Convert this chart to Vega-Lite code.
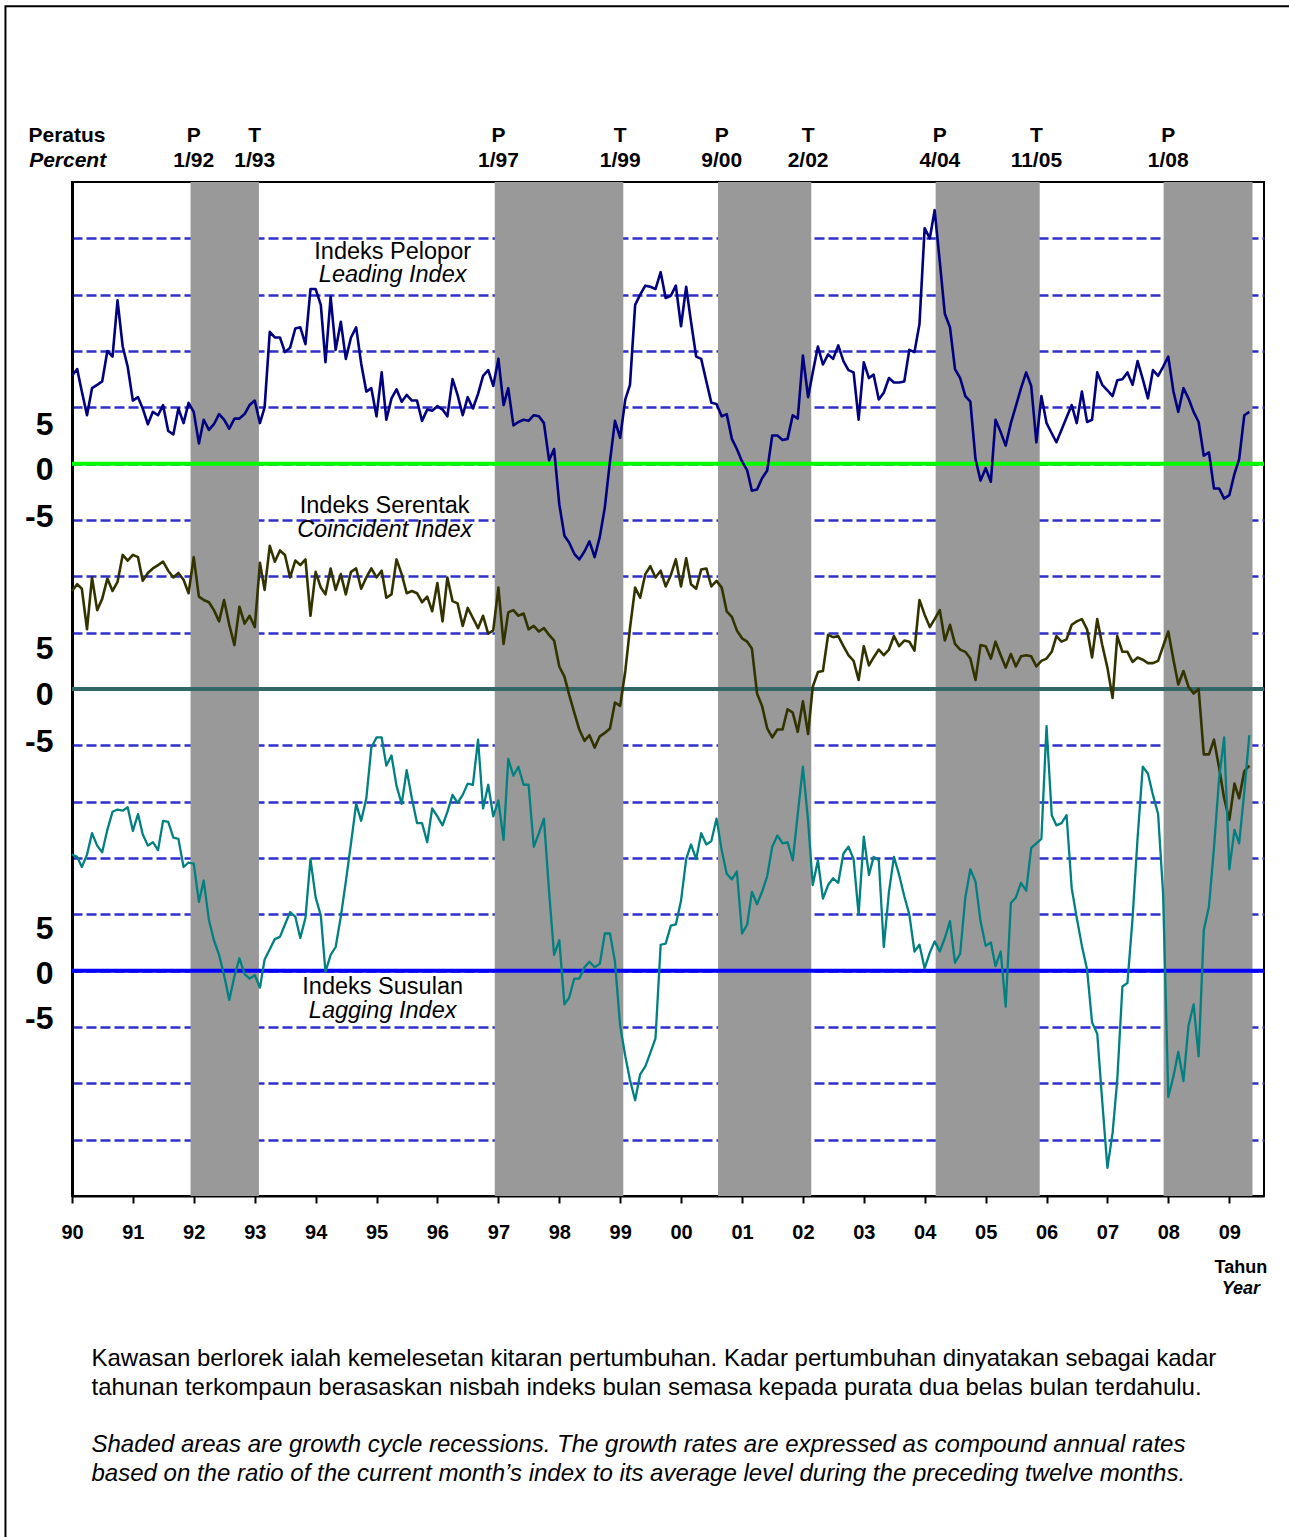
{
  "$schema": "https://vega.github.io/schema/vega-lite/v6.json",
  "width": 1192,
  "height": 1014,
  "autosize": {"type": "none"},
  "padding": {"left": 72, "top": 182, "right": 25, "bottom": 341},
  "background": "white",
  "config": {
    "font": "Liberation Sans",
    "view": {"stroke": "black", "strokeWidth": 2},
    "text": {"font": "Liberation Sans", "color": "black"}
  },
  "datasets": {
    "growth": [
      {"date":"1990-01","lead":7.8,"coin":8.7,"lag":10.3},
      {"date":"1990-02","lead":8.4,"coin":9.3,"lag":10.1},
      {"date":"1990-03","lead":6.4,"coin":8.9,"lag":9.2},
      {"date":"1990-04","lead":4.3,"coin":5.3,"lag":10.3},
      {"date":"1990-05","lead":6.7,"coin":9.9,"lag":12.2},
      {"date":"1990-06","lead":7.0,"coin":7.0,"lag":11.1},
      {"date":"1990-07","lead":7.3,"coin":8.0,"lag":10.5},
      {"date":"1990-08","lead":10.0,"coin":9.8,"lag":12.5},
      {"date":"1990-09","lead":9.5,"coin":8.7,"lag":14.1},
      {"date":"1990-10","lead":14.5,"coin":9.5,"lag":14.3},
      {"date":"1990-11","lead":10.4,"coin":11.9,"lag":14.2},
      {"date":"1990-12","lead":8.6,"coin":11.4,"lag":14.5},
      {"date":"1991-01","lead":5.6,"coin":11.9,"lag":12.4},
      {"date":"1991-02","lead":5.9,"coin":11.7,"lag":13.9},
      {"date":"1991-03","lead":4.9,"coin":9.6,"lag":12.1},
      {"date":"1991-04","lead":3.5,"coin":10.3,"lag":11.1},
      {"date":"1991-05","lead":4.6,"coin":10.7,"lag":11.4},
      {"date":"1991-06","lead":4.3,"coin":11.0,"lag":10.7},
      {"date":"1991-07","lead":5.2,"coin":11.3,"lag":13.3},
      {"date":"1991-08","lead":2.9,"coin":10.5,"lag":13.2},
      {"date":"1991-09","lead":2.6,"coin":9.9,"lag":11.8},
      {"date":"1991-10","lead":4.9,"coin":10.3,"lag":11.7},
      {"date":"1991-11","lead":3.6,"coin":9.7,"lag":9.2},
      {"date":"1991-12","lead":5.4,"coin":8.5,"lag":9.6},
      {"date":"1992-01","lead":4.6,"coin":11.7,"lag":9.5},
      {"date":"1992-02","lead":1.8,"coin":8.2,"lag":6.1},
      {"date":"1992-03","lead":3.9,"coin":7.9,"lag":8.0},
      {"date":"1992-04","lead":3.0,"coin":7.7,"lag":4.5},
      {"date":"1992-05","lead":3.5,"coin":7.0,"lag":2.7},
      {"date":"1992-06","lead":4.4,"coin":6.0,"lag":1.4},
      {"date":"1992-07","lead":3.9,"coin":7.9,"lag":-0.4},
      {"date":"1992-08","lead":3.1,"coin":5.7,"lag":-2.6},
      {"date":"1992-09","lead":4.0,"coin":3.9,"lag":-0.5},
      {"date":"1992-10","lead":4.0,"coin":7.3,"lag":1.1},
      {"date":"1992-11","lead":4.4,"coin":5.8,"lag":-0.3},
      {"date":"1992-12","lead":5.2,"coin":6.5,"lag":-0.7},
      {"date":"1993-01","lead":5.6,"coin":5.5,"lag":-0.4},
      {"date":"1993-02","lead":3.6,"coin":11.2,"lag":-1.5},
      {"date":"1993-03","lead":5.0,"coin":8.8,"lag":1.0},
      {"date":"1993-04","lead":11.7,"coin":12.7,"lag":1.9},
      {"date":"1993-05","lead":11.2,"coin":11.3,"lag":2.8},
      {"date":"1993-06","lead":11.2,"coin":12.3,"lag":3.0},
      {"date":"1993-07","lead":9.9,"coin":11.9,"lag":4.1},
      {"date":"1993-08","lead":10.3,"coin":9.9,"lag":5.2},
      {"date":"1993-09","lead":12.0,"coin":11.4,"lag":4.8},
      {"date":"1993-10","lead":12.1,"coin":11.0,"lag":2.9},
      {"date":"1993-11","lead":10.6,"coin":11.5,"lag":4.7},
      {"date":"1993-12","lead":15.5,"coin":6.5,"lag":9.9},
      {"date":"1994-01","lead":15.5,"coin":10.4,"lag":6.5},
      {"date":"1994-02","lead":14.1,"coin":9.0,"lag":4.9},
      {"date":"1994-03","lead":9.0,"coin":8.4,"lag":-0.1},
      {"date":"1994-04","lead":14.8,"coin":10.7,"lag":1.4},
      {"date":"1994-05","lead":10.1,"coin":8.8,"lag":2.1},
      {"date":"1994-06","lead":12.6,"coin":10.2,"lag":4.8},
      {"date":"1994-07","lead":9.3,"coin":8.4,"lag":7.9},
      {"date":"1994-08","lead":11.2,"coin":10.4,"lag":11.3},
      {"date":"1994-09","lead":12.1,"coin":10.7,"lag":14.8},
      {"date":"1994-10","lead":8.9,"coin":8.9,"lag":13.3},
      {"date":"1994-11","lead":6.4,"coin":9.9,"lag":15.3},
      {"date":"1994-12","lead":6.7,"coin":10.7,"lag":19.8},
      {"date":"1995-01","lead":4.2,"coin":9.9,"lag":20.7},
      {"date":"1995-02","lead":8.1,"coin":10.5,"lag":20.7},
      {"date":"1995-03","lead":3.9,"coin":8.1,"lag":18.2},
      {"date":"1995-04","lead":5.8,"coin":8.4,"lag":19.1},
      {"date":"1995-05","lead":6.6,"coin":11.5,"lag":16.4},
      {"date":"1995-06","lead":5.5,"coin":10.2,"lag":14.8},
      {"date":"1995-07","lead":6.1,"coin":8.5,"lag":17.8},
      {"date":"1995-08","lead":5.6,"coin":8.7,"lag":15.3},
      {"date":"1995-09","lead":5.6,"coin":8.5,"lag":13.1},
      {"date":"1995-10","lead":3.8,"coin":7.7,"lag":13.1},
      {"date":"1995-11","lead":4.8,"coin":8.2,"lag":11.4},
      {"date":"1995-12","lead":4.7,"coin":6.9,"lag":14.4},
      {"date":"1996-01","lead":5.1,"coin":9.4,"lag":13.7},
      {"date":"1996-02","lead":4.8,"coin":6.0,"lag":12.9},
      {"date":"1996-03","lead":4.2,"coin":9.9,"lag":14.1},
      {"date":"1996-04","lead":7.5,"coin":7.8,"lag":15.6},
      {"date":"1996-05","lead":6.1,"coin":7.6,"lag":14.9},
      {"date":"1996-06","lead":4.3,"coin":5.6,"lag":15.6},
      {"date":"1996-07","lead":5.9,"coin":7.2,"lag":16.6},
      {"date":"1996-08","lead":4.9,"coin":6.3,"lag":16.5},
      {"date":"1996-09","lead":6.2,"coin":5.4,"lag":20.5},
      {"date":"1996-10","lead":7.8,"coin":6.5,"lag":14.4},
      {"date":"1996-11","lead":8.3,"coin":4.9,"lag":16.5},
      {"date":"1996-12","lead":6.9,"coin":5.2,"lag":13.7},
      {"date":"1997-01","lead":9.3,"coin":9.0,"lag":15.1},
      {"date":"1997-02","lead":5.2,"coin":4.0,"lag":11.6},
      {"date":"1997-03","lead":6.7,"coin":6.8,"lag":18.8},
      {"date":"1997-04","lead":3.4,"coin":7.0,"lag":17.3},
      {"date":"1997-05","lead":3.7,"coin":6.5,"lag":18.1},
      {"date":"1997-06","lead":3.9,"coin":6.7,"lag":16.5},
      {"date":"1997-07","lead":3.8,"coin":5.3,"lag":16.5},
      {"date":"1997-08","lead":4.3,"coin":5.6,"lag":11.0},
      {"date":"1997-09","lead":4.2,"coin":5.1,"lag":12.2},
      {"date":"1997-10","lead":3.6,"coin":5.4,"lag":13.5},
      {"date":"1997-11","lead":0.3,"coin":4.8,"lag":7.0},
      {"date":"1997-12","lead":1.3,"coin":4.3,"lag":1.4},
      {"date":"1998-01","lead":-3.6,"coin":2.0,"lag":2.7},
      {"date":"1998-02","lead":-6.4,"coin":1.1,"lag":-3.0},
      {"date":"1998-03","lead":-7.0,"coin":-0.5,"lag":-2.4},
      {"date":"1998-04","lead":-8.0,"coin":-2.1,"lag":-0.7},
      {"date":"1998-05","lead":-8.5,"coin":-3.6,"lag":-0.7},
      {"date":"1998-06","lead":-7.8,"coin":-4.6,"lag":0.3},
      {"date":"1998-07","lead":-6.9,"coin":-4.1,"lag":0.8},
      {"date":"1998-08","lead":-8.3,"coin":-5.2,"lag":0.3},
      {"date":"1998-09","lead":-6.5,"coin":-4.2,"lag":0.6},
      {"date":"1998-10","lead":-3.9,"coin":-3.9,"lag":3.3},
      {"date":"1998-11","lead":0.2,"coin":-3.5,"lag":3.3},
      {"date":"1998-12","lead":3.8,"coin":-1.2,"lag":0.8},
      {"date":"1999-01","lead":2.3,"coin":-1.5,"lag":-4.9},
      {"date":"1999-02","lead":5.7,"coin":1.6,"lag":-7.6},
      {"date":"1999-03","lead":7.0,"coin":5.4,"lag":-9.7},
      {"date":"1999-04","lead":14.1,"coin":9.0,"lag":-11.5},
      {"date":"1999-05","lead":15.0,"coin":8.1,"lag":-9.2},
      {"date":"1999-06","lead":15.8,"coin":10.2,"lag":-8.5},
      {"date":"1999-07","lead":15.7,"coin":10.9,"lag":-7.3},
      {"date":"1999-08","lead":15.5,"coin":9.9,"lag":-6.0},
      {"date":"1999-09","lead":17.0,"coin":10.5,"lag":2.3},
      {"date":"1999-10","lead":14.7,"coin":9.1,"lag":2.4},
      {"date":"1999-11","lead":14.9,"coin":10.1,"lag":4.0},
      {"date":"1999-12","lead":15.8,"coin":11.5,"lag":4.1},
      {"date":"2000-01","lead":12.2,"coin":9.1,"lag":6.2},
      {"date":"2000-02","lead":15.7,"coin":11.6,"lag":9.9},
      {"date":"2000-03","lead":12.6,"coin":9.3,"lag":11.2},
      {"date":"2000-04","lead":9.5,"coin":8.9,"lag":9.9},
      {"date":"2000-05","lead":9.3,"coin":10.6,"lag":12.2},
      {"date":"2000-06","lead":7.3,"coin":10.7,"lag":11.2},
      {"date":"2000-07","lead":5.4,"coin":9.1,"lag":11.5},
      {"date":"2000-08","lead":5.3,"coin":9.6,"lag":13.5},
      {"date":"2000-09","lead":4.2,"coin":9.0,"lag":10.7},
      {"date":"2000-10","lead":4.4,"coin":6.9,"lag":8.6},
      {"date":"2000-11","lead":2.2,"coin":6.4,"lag":8.1},
      {"date":"2000-12","lead":1.3,"coin":5.2,"lag":8.8},
      {"date":"2001-01","lead":0.2,"coin":4.5,"lag":3.3},
      {"date":"2001-02","lead":-0.6,"coin":4.2,"lag":4.1},
      {"date":"2001-03","lead":-2.4,"coin":3.6,"lag":7.0},
      {"date":"2001-04","lead":-2.3,"coin":-0.4,"lag":5.9},
      {"date":"2001-05","lead":-1.3,"coin":-1.5,"lag":7.0},
      {"date":"2001-06","lead":-0.6,"coin":-3.5,"lag":8.4},
      {"date":"2001-07","lead":2.5,"coin":-4.3,"lag":11.0},
      {"date":"2001-08","lead":2.5,"coin":-3.6,"lag":12.0},
      {"date":"2001-09","lead":2.1,"coin":-3.6,"lag":11.3},
      {"date":"2001-10","lead":2.2,"coin":-1.8,"lag":11.4},
      {"date":"2001-11","lead":4.3,"coin":-2.1,"lag":9.8},
      {"date":"2001-12","lead":4.0,"coin":-3.8,"lag":13.9},
      {"date":"2002-01","lead":9.6,"coin":-1.1,"lag":18.1},
      {"date":"2002-02","lead":5.9,"coin":-4.0,"lag":13.3},
      {"date":"2002-03","lead":8.1,"coin":0.2,"lag":7.6},
      {"date":"2002-04","lead":10.4,"coin":1.5,"lag":9.8},
      {"date":"2002-05","lead":8.8,"coin":1.6,"lag":6.4},
      {"date":"2002-06","lead":9.7,"coin":4.8,"lag":7.6},
      {"date":"2002-07","lead":9.3,"coin":4.6,"lag":8.2},
      {"date":"2002-08","lead":10.5,"coin":4.7,"lag":7.8},
      {"date":"2002-09","lead":9.1,"coin":3.8,"lag":10.4},
      {"date":"2002-10","lead":8.3,"coin":3.0,"lag":11.0},
      {"date":"2002-11","lead":8.1,"coin":2.5,"lag":9.9},
      {"date":"2002-12","lead":3.9,"coin":0.8,"lag":5.0},
      {"date":"2003-01","lead":9.0,"coin":3.8,"lag":11.9},
      {"date":"2003-02","lead":7.6,"coin":2.1,"lag":8.5},
      {"date":"2003-03","lead":7.9,"coin":2.8,"lag":10.1},
      {"date":"2003-04","lead":5.7,"coin":3.5,"lag":9.8},
      {"date":"2003-05","lead":6.3,"coin":3.0,"lag":2.1},
      {"date":"2003-06","lead":7.6,"coin":3.5,"lag":7.0},
      {"date":"2003-07","lead":7.2,"coin":4.7,"lag":10.1},
      {"date":"2003-08","lead":7.2,"coin":3.8,"lag":8.5},
      {"date":"2003-09","lead":7.3,"coin":4.3,"lag":6.6},
      {"date":"2003-10","lead":10.1,"coin":4.2,"lag":5.0},
      {"date":"2003-11","lead":9.9,"coin":3.4,"lag":1.7},
      {"date":"2003-12","lead":12.4,"coin":7.9,"lag":2.3},
      {"date":"2004-01","lead":20.9,"coin":6.6,"lag":0.2},
      {"date":"2004-02","lead":20.0,"coin":5.5,"lag":1.6},
      {"date":"2004-03","lead":22.5,"coin":6.2,"lag":2.6},
      {"date":"2004-04","lead":17.9,"coin":7.0,"lag":1.7},
      {"date":"2004-05","lead":13.3,"coin":4.3,"lag":2.9},
      {"date":"2004-06","lead":12.1,"coin":5.7,"lag":4.4},
      {"date":"2004-07","lead":8.4,"coin":4.0,"lag":0.7},
      {"date":"2004-08","lead":7.6,"coin":3.5,"lag":1.5},
      {"date":"2004-09","lead":6.0,"coin":3.3,"lag":6.5},
      {"date":"2004-10","lead":5.5,"coin":2.7,"lag":9.0},
      {"date":"2004-11","lead":0.4,"coin":0.8,"lag":7.9},
      {"date":"2004-12","lead":-1.5,"coin":3.9,"lag":4.4},
      {"date":"2005-01","lead":-0.4,"coin":3.8,"lag":2.2},
      {"date":"2005-02","lead":-1.6,"coin":2.7,"lag":2.5},
      {"date":"2005-03","lead":3.9,"coin":4.2,"lag":0.4},
      {"date":"2005-04","lead":2.8,"coin":3.0,"lag":1.7},
      {"date":"2005-05","lead":1.6,"coin":1.9,"lag":-3.2},
      {"date":"2005-06","lead":3.6,"coin":3.1,"lag":6.0},
      {"date":"2005-07","lead":5.1,"coin":2.0,"lag":6.5},
      {"date":"2005-08","lead":6.7,"coin":2.9,"lag":7.8},
      {"date":"2005-09","lead":8.1,"coin":3.0,"lag":7.1},
      {"date":"2005-10","lead":6.9,"coin":2.9,"lag":10.9},
      {"date":"2005-11","lead":1.9,"coin":2.0,"lag":11.3},
      {"date":"2005-12","lead":6.0,"coin":2.5,"lag":11.7},
      {"date":"2006-01","lead":3.6,"coin":2.7,"lag":21.7},
      {"date":"2006-02","lead":2.7,"coin":3.3,"lag":13.8},
      {"date":"2006-03","lead":1.9,"coin":4.7,"lag":12.9},
      {"date":"2006-04","lead":3.0,"coin":4.2,"lag":13.1},
      {"date":"2006-05","lead":4.1,"coin":4.4,"lag":13.8},
      {"date":"2006-06","lead":5.2,"coin":5.7,"lag":7.3},
      {"date":"2006-07","lead":3.6,"coin":6.0,"lag":4.7},
      {"date":"2006-08","lead":6.4,"coin":6.2,"lag":2.2},
      {"date":"2006-09","lead":3.7,"coin":5.3,"lag":0.1},
      {"date":"2006-10","lead":3.9,"coin":2.8,"lag":-4.6},
      {"date":"2006-11","lead":8.1,"coin":6.2,"lag":-5.6},
      {"date":"2006-12","lead":7.0,"coin":3.9,"lag":-11.6},
      {"date":"2007-01","lead":6.5,"coin":1.9,"lag":-17.5},
      {"date":"2007-02","lead":6.0,"coin":-0.8,"lag":-14.4},
      {"date":"2007-03","lead":7.4,"coin":4.7,"lag":-9.7},
      {"date":"2007-04","lead":7.5,"coin":3.3,"lag":-1.4},
      {"date":"2007-05","lead":8.1,"coin":3.3,"lag":-1.1},
      {"date":"2007-06","lead":7.0,"coin":2.4,"lag":4.7},
      {"date":"2007-07","lead":9.1,"coin":2.8,"lag":11.8},
      {"date":"2007-08","lead":7.5,"coin":2.6,"lag":18.1},
      {"date":"2007-09","lead":5.8,"coin":2.3,"lag":17.5},
      {"date":"2007-10","lead":8.3,"coin":2.3,"lag":15.6},
      {"date":"2007-11","lead":7.8,"coin":2.5,"lag":13.9},
      {"date":"2007-12","lead":8.6,"coin":3.8,"lag":6.8},
      {"date":"2008-01","lead":9.5,"coin":5.1,"lag":-11.2},
      {"date":"2008-02","lead":6.4,"coin":2.6,"lag":-9.4},
      {"date":"2008-03","lead":4.6,"coin":0.4,"lag":-7.2},
      {"date":"2008-04","lead":6.7,"coin":1.6,"lag":-9.8},
      {"date":"2008-05","lead":5.8,"coin":0.2,"lag":-4.9},
      {"date":"2008-06","lead":4.6,"coin":-0.4,"lag":-3.0},
      {"date":"2008-07","lead":3.7,"coin":0.0,"lag":-7.6},
      {"date":"2008-08","lead":0.7,"coin":-5.8,"lag":3.6},
      {"date":"2008-09","lead":1.0,"coin":-5.8,"lag":5.7},
      {"date":"2008-10","lead":-2.2,"coin":-4.5,"lag":10.9},
      {"date":"2008-11","lead":-2.2,"coin":-7.0,"lag":17.1},
      {"date":"2008-12","lead":-3.1,"coin":-9.7,"lag":20.7},
      {"date":"2009-01","lead":-2.8,"coin":-11.6,"lag":9.0},
      {"date":"2009-02","lead":-0.9,"coin":-8.4,"lag":12.5},
      {"date":"2009-03","lead":0.4,"coin":-9.7,"lag":11.3},
      {"date":"2009-04","lead":4.3,"coin":-7.3,"lag":15.9},
      {"date":"2009-05","lead":4.6,"coin":-6.8,"lag":20.9}
    ],
    "recessions": [
      {"start":"1991-12-13","end":"1993-01-26"},
      {"start":"1996-12-10","end":"1999-01-20"},
      {"start":"2000-08-10","end":"2002-02-20"},
      {"start":"2004-03-07","end":"2005-11-21"},
      {"start":"2007-12-04","end":"2009-05-20"}
    ],
    "turns": [
      {"date":"1992-01","type":"P","label":"1/92"},
      {"date":"1993-01","type":"T","label":"1/93"},
      {"date":"1997-01","type":"P","label":"1/97"},
      {"date":"1999-01","type":"T","label":"1/99"},
      {"date":"2000-09","type":"P","label":"9/00"},
      {"date":"2002-02","type":"T","label":"2/02"},
      {"date":"2004-04","type":"P","label":"4/04"},
      {"date":"2005-11","type":"T","label":"11/05"},
      {"date":"2008-01","type":"P","label":"1/08"}
    ]
  },
  "data": {"name": "growth"},
  "layer": [
    {
      "layer": [
        {
          "data": {"name": "recessions"},
          "mark": {"type": "rect", "color": "#999999"},
          "encoding": {
            "x": {
              "field": "start", "type": "temporal", "title": null,
              "scale": {"type": "utc", "domain": [{"year": 1990, "month": 1, "date": 1, "utc": true}, {"year": 2009, "month": 7, "date": 28, "utc": true}]},
              "axis": {
                "values": [{"year":1990,"utc":true},{"year":1991,"utc":true},{"year":1992,"utc":true},{"year":1993,"utc":true},{"year":1994,"utc":true},{"year":1995,"utc":true},{"year":1996,"utc":true},{"year":1997,"utc":true},{"year":1998,"utc":true},{"year":1999,"utc":true},{"year":2000,"utc":true},{"year":2001,"utc":true},{"year":2002,"utc":true},{"year":2003,"utc":true},{"year":2004,"utc":true},{"year":2005,"utc":true},{"year":2006,"utc":true},{"year":2007,"utc":true},{"year":2008,"utc":true},{"year":2009,"utc":true}],
                "format": "%y",
                "title": null,
                "grid": false,
                "labelFont": "Liberation Sans",
                "labelFontSize": 20,
                "labelFontWeight": "bold",
                "labelColor": "black",
                "labelPadding": 19,
                "labelOverlap": false,
                "labelFlush": false,
                "labelBound": false,
                "tickSize": 7,
                "tickWidth": 2,
                "tickColor": "black",
                "domainColor": "black",
                "domainWidth": 2
              }
            },
            "x2": {"field": "end"}
          }
        },
        {
          "data": {"values": [{}]},
          "mark": {"type": "rect", "fillOpacity": 0, "stroke": "black", "strokeWidth": 2},
          "encoding": {
            "x": {"datum": {"year": 1988, "month": 11, "date": 28, "utc": true}, "type": "temporal", "title": null, "scale": {"type": "utc", "domain": [{"year": 1990, "month": 1, "date": 1, "utc": true}, {"year": 2009, "month": 7, "date": 28, "utc": true}]}},
            "x2": {"datum": {"year": 2011, "month": 1, "date": 1, "utc": true}},
            "y": {"datum": 40.6, "type": "quantitative", "title": null, "scale": {"domain": [-65, 25], "nice": false, "zero": false}},
            "y2": {"datum": -120}
          }
        },
        {
          "data": {"values": [{}]},
          "mark": {"type": "rule", "color": "#00ff00", "strokeWidth": 4},
          "encoding": {
            "y": {"datum": 0, "type": "quantitative", "title": null, "scale": {"domain": [-65, 25], "nice": false, "zero": false}}
          }
        },
        {
          "mark": {"type": "line", "color": "#000080", "strokeWidth": 2.6, "strokeJoin": "round"},
          "encoding": {
            "x": {"field": "date", "type": "temporal", "title": null, "scale": {"type": "utc", "domain": [{"year": 1990, "month": 1, "date": 1, "utc": true}, {"year": 2009, "month": 7, "date": 28, "utc": true}]}},
            "y": {
              "field": "lead", "type": "quantitative", "title": null,
              "scale": {"domain": [-65, 25], "nice": false, "zero": false},
              "axis": {
                "values": [-60,-55,-50,-45,-40,-35,-30,-25,-20,-15,-10,-5,0,5,10,15,20],
                "title": null,
                "grid": true,
                "gridColor": "#2f2fcc",
                "gridOpacity": 1,
                "gridDash": [10, 4],
                "gridWidth": 2.5,
                "ticks": false,
                "tickSize": 0,
                "domain": true,
                "domainColor": "black",
                "domainWidth": 3,
                "labelExpr": "indexof([5,-15,-40], datum.value) >= 0 ? '5' : indexof([0,-20,-45], datum.value) >= 0 ? '0' : indexof([-5,-25,-50], datum.value) >= 0 ? '-5' : ''",
                "labelFont": "Liberation Sans",
                "labelFontSize": 32,
                "labelFontWeight": "bold",
                "labelColor": "black",
                "labelPadding": 19,
                "labelOverlap": false,
                "labelFlush": false,
                "labelBound": false,
                "labelOffset": {
                  "condition": [
                    {"test": "datum.value == 5", "value": 17},
                    {"test": "datum.value == -15", "value": 16},
                    {"test": "datum.value == -40", "value": 14},
                    {"test": "datum.value == 0", "value": 6},
                    {"test": "datum.value == -20", "value": 5},
                    {"test": "datum.value == -45", "value": 3},
                    {"test": "datum.value == -5", "value": -4},
                    {"test": "datum.value == -25", "value": -4},
                    {"test": "datum.value == -50", "value": -9}
                  ],
                  "value": 0
                }
              }
            }
          }
        },
        {
          "data": {"name": "turns"},
          "mark": {"type": "text", "font": "Liberation Sans", "fontSize": 21, "fontWeight": "bold", "align": "center", "baseline": "middle", "color": "black"},
          "encoding": {
            "x": {"field": "date", "type": "temporal", "title": null, "scale": {"type": "utc", "domain": [{"year": 1990, "month": 1, "date": 1, "utc": true}, {"year": 2009, "month": 7, "date": 28, "utc": true}]}},
            "y": {"datum": 29.05, "type": "quantitative", "title": null, "scale": {"domain": [-65, 25], "nice": false, "zero": false}},
            "text": {"field": "type"}
          }
        },
        {
          "data": {"name": "turns"},
          "mark": {"type": "text", "font": "Liberation Sans", "fontSize": 21, "fontWeight": "bold", "align": "center", "baseline": "middle", "color": "black"},
          "encoding": {
            "x": {"field": "date", "type": "temporal", "title": null, "scale": {"type": "utc", "domain": [{"year": 1990, "month": 1, "date": 1, "utc": true}, {"year": 2009, "month": 7, "date": 28, "utc": true}]}},
            "y": {"datum": 26.83, "type": "quantitative", "title": null, "scale": {"domain": [-65, 25], "nice": false, "zero": false}},
            "text": {"field": "label"}
          }
        },
        {
          "data": {"values": [{}]},
          "mark": {"type": "text", "font": "Liberation Sans", "fontSize": 21, "fontWeight": "bold", "align": "left", "baseline": "middle", "color": "black"},
          "encoding": {
            "x": {"datum": {"year": 1989, "month": 4, "date": 15, "utc": true}, "type": "temporal", "title": null, "scale": {"type": "utc", "domain": [{"year": 1990, "month": 1, "date": 1, "utc": true}, {"year": 2009, "month": 7, "date": 28, "utc": true}]}},
            "y": {"datum": 29.05, "type": "quantitative", "title": null, "scale": {"domain": [-65, 25], "nice": false, "zero": false}},
            "text": {"value": "Peratus"}
          }
        },
        {
          "data": {"values": [{}]},
          "mark": {"type": "text", "font": "Liberation Sans", "fontSize": 21, "fontWeight": "bold", "fontStyle": "italic", "align": "left", "baseline": "middle", "color": "black"},
          "encoding": {
            "x": {"datum": {"year": 1989, "month": 4, "date": 19, "utc": true}, "type": "temporal", "title": null, "scale": {"type": "utc", "domain": [{"year": 1990, "month": 1, "date": 1, "utc": true}, {"year": 2009, "month": 7, "date": 28, "utc": true}]}},
            "y": {"datum": 26.83, "type": "quantitative", "title": null, "scale": {"domain": [-65, 25], "nice": false, "zero": false}},
            "text": {"value": "Percent"}
          }
        },
        {
          "data": {"values": [{}]},
          "mark": {"type": "text", "font": "Liberation Sans", "fontSize": 23.5, "align": "center", "baseline": "middle", "color": "black"},
          "encoding": {
            "x": {"datum": {"year": 1995, "month": 4, "date": 8, "utc": true}, "type": "temporal", "title": null, "scale": {"type": "utc", "domain": [{"year": 1990, "month": 1, "date": 1, "utc": true}, {"year": 2009, "month": 7, "date": 28, "utc": true}]}},
            "y": {"datum": 18.83, "type": "quantitative", "title": null, "scale": {"domain": [-65, 25], "nice": false, "zero": false}},
            "text": {"value": "Indeks Pelopor"}
          }
        },
        {
          "data": {"values": [{}]},
          "mark": {"type": "text", "font": "Liberation Sans", "fontSize": 23.5, "fontStyle": "italic", "align": "center", "baseline": "middle", "color": "black"},
          "encoding": {
            "x": {"datum": {"year": 1995, "month": 4, "date": 8, "utc": true}, "type": "temporal", "title": null, "scale": {"type": "utc", "domain": [{"year": 1990, "month": 1, "date": 1, "utc": true}, {"year": 2009, "month": 7, "date": 28, "utc": true}]}},
            "y": {"datum": 16.78, "type": "quantitative", "title": null, "scale": {"domain": [-65, 25], "nice": false, "zero": false}},
            "text": {"value": "Leading Index"}
          }
        },
        {
          "data": {"values": [{}]},
          "mark": {"type": "text", "font": "Liberation Sans", "fontSize": 18, "fontWeight": "bold", "align": "center", "baseline": "middle", "color": "black"},
          "encoding": {
            "x": {"datum": {"year": 2009, "month": 3, "date": 11, "utc": true}, "type": "temporal", "title": null, "scale": {"type": "utc", "domain": [{"year": 1990, "month": 1, "date": 1, "utc": true}, {"year": 2009, "month": 7, "date": 28, "utc": true}]}},
            "y": {"datum": -71.4, "type": "quantitative", "title": null, "scale": {"domain": [-65, 25], "nice": false, "zero": false}},
            "text": {"value": "Tahun"}
          }
        },
        {
          "data": {"values": [{}]},
          "mark": {"type": "text", "font": "Liberation Sans", "fontSize": 18, "fontWeight": "bold", "fontStyle": "italic", "align": "center", "baseline": "middle", "color": "black"},
          "encoding": {
            "x": {"datum": {"year": 2009, "month": 3, "date": 11, "utc": true}, "type": "temporal", "title": null, "scale": {"type": "utc", "domain": [{"year": 1990, "month": 1, "date": 1, "utc": true}, {"year": 2009, "month": 7, "date": 28, "utc": true}]}},
            "y": {"datum": -73.29, "type": "quantitative", "title": null, "scale": {"domain": [-65, 25], "nice": false, "zero": false}},
            "text": {"value": "Year"}
          }
        },
        {
          "data": {"values": [{}]},
          "mark": {"type": "text", "font": "Liberation Sans", "fontSize": 24, "align": "left", "baseline": "alphabetic", "lineHeight": 29, "color": "black"},
          "encoding": {
            "x": {"datum": {"year": 1990, "month": 4, "date": 28, "utc": true}, "type": "temporal", "title": null, "scale": {"type": "utc", "domain": [{"year": 1990, "month": 1, "date": 1, "utc": true}, {"year": 2009, "month": 7, "date": 28, "utc": true}]}},
            "y": {"datum": -80.1, "type": "quantitative", "title": null, "scale": {"domain": [-65, 25], "nice": false, "zero": false}},
            "text": {"value": ["Kawasan berlorek ialah kemelesetan kitaran pertumbuhan. Kadar pertumbuhan dinyatakan sebagai kadar", "tahunan terkompaun berasaskan nisbah indeks bulan semasa kepada purata dua belas bulan terdahulu."]}
          }
        },
        {
          "data": {"values": [{}]},
          "mark": {"type": "text", "font": "Liberation Sans", "fontSize": 24, "fontStyle": "italic", "align": "left", "baseline": "alphabetic", "lineHeight": 29, "color": "black"},
          "encoding": {
            "x": {"datum": {"year": 1990, "month": 4, "date": 28, "utc": true}, "type": "temporal", "title": null, "scale": {"type": "utc", "domain": [{"year": 1990, "month": 1, "date": 1, "utc": true}, {"year": 2009, "month": 7, "date": 28, "utc": true}]}},
            "y": {"datum": -87.74, "type": "quantitative", "title": null, "scale": {"domain": [-65, 25], "nice": false, "zero": false}},
            "text": {"value": ["Shaded areas are growth cycle recessions. The growth rates are expressed as compound annual rates", "based on the ratio of the current month’s index to its average level during the preceding twelve months."]}
          }
        }
      ]
    },
    {
      "layer": [
        {
          "data": {"values": [{}]},
          "mark": {"type": "rule", "color": "#336666", "strokeWidth": 4},
          "encoding": {
            "y": {"datum": 0, "type": "quantitative", "scale": {"domain": [-45, 45], "nice": false, "zero": false}, "axis": null}
          }
        },
        {
          "mark": {"type": "line", "color": "#333300", "strokeWidth": 2.6, "strokeJoin": "round"},
          "encoding": {
            "x": {"field": "date", "type": "temporal", "title": null, "scale": {"type": "utc", "domain": [{"year": 1990, "month": 1, "date": 1, "utc": true}, {"year": 2009, "month": 7, "date": 28, "utc": true}]}},
            "y": {"field": "coin", "type": "quantitative", "scale": {"domain": [-45, 45], "nice": false, "zero": false}, "axis": null}
          }
        },
        {
          "data": {"values": [{}]},
          "mark": {"type": "text", "font": "Liberation Sans", "fontSize": 23.5, "align": "center", "baseline": "middle", "color": "black"},
          "encoding": {
            "x": {"datum": {"year": 1995, "month": 2, "date": 19, "utc": true}, "type": "temporal", "title": null, "scale": {"type": "utc", "domain": [{"year": 1990, "month": 1, "date": 1, "utc": true}, {"year": 2009, "month": 7, "date": 28, "utc": true}]}},
            "y": {"datum": 16.23, "type": "quantitative", "scale": {"domain": [-45, 45], "nice": false, "zero": false}, "axis": null},
            "text": {"value": "Indeks Serentak"}
          }
        },
        {
          "data": {"values": [{}]},
          "mark": {"type": "text", "font": "Liberation Sans", "fontSize": 23.5, "fontStyle": "italic", "align": "center", "baseline": "middle", "color": "black"},
          "encoding": {
            "x": {"datum": {"year": 1995, "month": 2, "date": 19, "utc": true}, "type": "temporal", "title": null, "scale": {"type": "utc", "domain": [{"year": 1990, "month": 1, "date": 1, "utc": true}, {"year": 2009, "month": 7, "date": 28, "utc": true}]}},
            "y": {"datum": 14.12, "type": "quantitative", "scale": {"domain": [-45, 45], "nice": false, "zero": false}, "axis": null},
            "text": {"value": "Coincident Index"}
          }
        }
      ]
    },
    {
      "layer": [
        {
          "data": {"values": [{}]},
          "mark": {"type": "rule", "color": "#0000ff", "strokeWidth": 4},
          "encoding": {
            "y": {"datum": 0, "type": "quantitative", "scale": {"domain": [-20, 70], "nice": false, "zero": false}, "axis": null}
          }
        },
        {
          "mark": {"type": "line", "color": "#008080", "strokeWidth": 2.3, "strokeJoin": "round"},
          "encoding": {
            "x": {"field": "date", "type": "temporal", "title": null, "scale": {"type": "utc", "domain": [{"year": 1990, "month": 1, "date": 1, "utc": true}, {"year": 2009, "month": 7, "date": 28, "utc": true}]}},
            "y": {"field": "lag", "type": "quantitative", "scale": {"domain": [-20, 70], "nice": false, "zero": false}, "axis": null}
          }
        },
        {
          "data": {"values": [{}]},
          "mark": {"type": "text", "font": "Liberation Sans", "fontSize": 23.5, "align": "center", "baseline": "middle", "color": "black"},
          "encoding": {
            "x": {"datum": {"year": 1995, "month": 2, "date": 7, "utc": true}, "type": "temporal", "title": null, "scale": {"type": "utc", "domain": [{"year": 1990, "month": 1, "date": 1, "utc": true}, {"year": 2009, "month": 7, "date": 28, "utc": true}]}},
            "y": {"datum": -1.44, "type": "quantitative", "scale": {"domain": [-20, 70], "nice": false, "zero": false}, "axis": null},
            "text": {"value": "Indeks Susulan"}
          }
        },
        {
          "data": {"values": [{}]},
          "mark": {"type": "text", "font": "Liberation Sans", "fontSize": 23.5, "fontStyle": "italic", "align": "center", "baseline": "middle", "color": "black"},
          "encoding": {
            "x": {"datum": {"year": 1995, "month": 2, "date": 7, "utc": true}, "type": "temporal", "title": null, "scale": {"type": "utc", "domain": [{"year": 1990, "month": 1, "date": 1, "utc": true}, {"year": 2009, "month": 7, "date": 28, "utc": true}]}},
            "y": {"datum": -3.54, "type": "quantitative", "scale": {"domain": [-20, 70], "nice": false, "zero": false}, "axis": null},
            "text": {"value": "Lagging Index"}
          }
        }
      ]
    }
  ],
  "resolve": {"scale": {"y": "independent"}}
}
